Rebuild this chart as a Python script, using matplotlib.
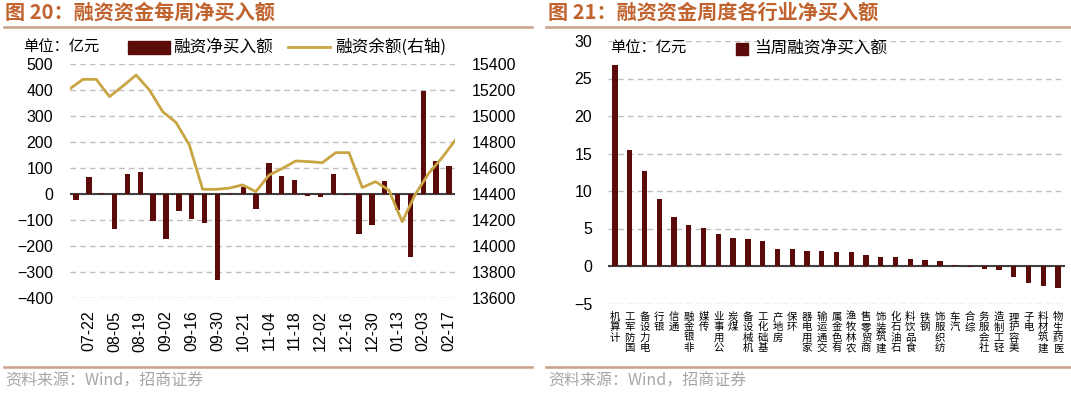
"""Two-panel margin-financing chart: weekly net buy + balance, and net buy by industry."""

import matplotlib

matplotlib.use("Agg")
import matplotlib.pyplot as plt
import numpy as np
from matplotlib.lines import Line2D
from matplotlib.patches import Rectangle

W, H = 1071, 393

weeks = [
    "07-15", "07-22", "07-29", "08-05", "08-12", "08-19", "08-26", "09-02", "09-09", "09-16",
    "09-23", "09-30", "10-14", "10-21", "10-28", "11-04", "11-11", "11-18", "11-25", "12-02",
    "12-09", "12-16", "12-23", "12-30", "01-06", "01-13", "01-20", "02-03", "02-10", "02-17",
]
net_buy = [
    -23, 64, 5, -133, 78, 85, -104, -174, -67, -95,
    -110, -331, 5, 26, -58, 120, 69, 53, -6, -10,
    78, -5, -154, -118, 49, -63, -243, 397, 126, 106,
]
balance = [
    15208, 15282, 15282, 15149, 15230, 15315, 15200, 15033, 14950, 14777,
    14436, 14436, 14445, 14470, 14418, 14546, 14597, 14654, 14649, 14641,
    14718, 14718, 14450, 14495, 14430, 14187, 14400, 14560, 14680, 14815,
]

industries = [
    "计算机", "国防军工", "电力设备", "银行", "通信", "非银金融", "传媒", "公用事业", "煤炭",
    "机械设备", "基础化工", "房地产", "环保", "家用电器", "交通运输", "有色金属", "农林牧渔",
    "商贸零售", "建筑装饰", "石油石化", "食品饮料", "钢铁", "纺织服饰", "汽车", "综合",
    "社会服务", "轻工制造", "美容护理", "电子", "建筑材料", "医药生物",
]
industry_net = [
    26.8, 15.45, 12.7, 8.97, 6.6, 5.46, 5.1, 4.26, 3.73,
    3.55, 3.37, 2.26, 2.26, 2.04, 2.04, 1.9, 1.82,
    1.47, 1.24, 1.24, 0.89, 0.75, 0.67, 0.18, -0.18,
    -0.44, -0.53, -1.5, -2.2, -2.6, -2.9,
]

BAR = "#5C0B0B"
GOLD = "#C9A443"
TITLE = "#C0632F"
RULE = "#C9A088"
GRID = "#BFBFBF"
ZERO = "#404040"
SRC = "#A6A6A6"
CJK = ["Noto Sans CJK SC", "DejaVu Sans"]

plt.rcParams["font.family"] = ["Liberation Sans", "Noto Sans CJK SC", "DejaVu Sans"]


def fx(x):
    return x / W


def fy(y):
    return 1 - y / H


def style_axes(ax):
    for s in ax.spines.values():
        s.set_visible(False)
    ax.yaxis.grid(True, linestyle=(0, (4, 3)), color=GRID, lw=1)
    ax.set_axisbelow(True)
    ax.axhline(0, color=ZERO, lw=1.5, zorder=2)


fig = plt.figure(figsize=(W / 100, H / 100), dpi=100)

# ---- left panel: weekly net buy and balance ----
ax = fig.add_axes([fx(69.6), fy(298), fx(455.4) - fx(69.6), fy(64) - fy(298)])
style_axes(ax)
x = np.arange(len(weeks))
ax.bar(x, net_buy, width=0.42, color=BAR, zorder=3)
ax.set_xlim(-0.5, len(weeks) - 0.5)
ax.set_ylim(-400, 500)
ax.set_yticks(np.arange(-400, 501, 100))
ax.set_xticks(x[1::2])
ax.set_xticklabels(weeks[1::2], rotation=90, fontsize=11.5)
ax.tick_params(axis="both", length=0, labelsize=11.5)
ax.tick_params(axis="y", pad=12)
ax.tick_params(axis="x", pad=9)

ax2 = ax.twinx()
for s in ax2.spines.values():
    s.set_visible(False)
ax2.plot(np.linspace(-0.5, len(weeks) - 0.5, len(balance)), balance, color=GOLD, lw=2, zorder=4)
ax2.set_ylim(13600, 15400)
ax2.set_yticks(np.arange(13600, 15401, 200))
ax2.tick_params(axis="y", length=0, labelsize=11.5, pad=12)

fig.text(fx(5), fy(12.5), "图 20：融资资金每周净买入额", color=TITLE, fontsize=14.5,
         fontweight="bold", family=CJK, va="center", ha="left")
fig.add_artist(Line2D([fx(4), fx(532)], [fy(26.5)] * 2, color=RULE, lw=1.8))
fig.add_artist(Line2D([fx(4), fx(532)], [fy(367)] * 2, color=RULE, lw=1.8))
fig.text(fx(5), fy(381), "资料来源：Wind，招商证券", color=SRC, fontsize=11.5,
         family=CJK, va="center", ha="left")

fig.text(fx(23), fy(47), "单位：亿元", fontsize=11, family=CJK, va="center", ha="left")
fig.add_artist(Rectangle((fx(128), fy(54)), fx(170) - fx(128), fy(41) - fy(54), color=BAR))
fig.text(fx(173), fy(47), "融资净买入额", fontsize=12, family=CJK, va="center", ha="left")
fig.add_artist(Line2D([fx(288), fx(330)], [fy(47)] * 2, color=GOLD, lw=2))
fig.text(fx(335), fy(47), "融资余额(右轴)", fontsize=12, family=CJK, va="center", ha="left")

# ---- right panel: weekly net buy by industry ----
bx = fig.add_axes([fx(607.6), fy(303.5), fx(1065.4) - fx(607.6), fy(41) - fy(303.5)])
style_axes(bx)
xi = np.arange(len(industries))
bx.bar(xi, industry_net, width=0.36, color=BAR, zorder=3)
bx.set_xlim(-0.5, len(industries) - 0.5)
bx.set_ylim(-5, 30)
bx.set_yticks(np.arange(-5, 31, 5))
bx.set_xticks(xi)
bx.set_xticklabels(["\n".join(reversed(n)) for n in industries], fontsize=7.5,
                   family=CJK, linespacing=1.05, va="top")
bx.tick_params(axis="both", length=0)
bx.tick_params(axis="y", labelsize=11.5, pad=11)
bx.tick_params(axis="x", pad=6)

fig.text(fx(548), fy(12.5), "图 21：融资资金周度各行业净买入额", color=TITLE, fontsize=14.5,
         fontweight="bold", family=CJK, va="center", ha="left")
fig.add_artist(Line2D([fx(546), fx(1071)], [fy(26.5)] * 2, color=RULE, lw=1.8))
fig.add_artist(Line2D([fx(546), fx(1071)], [fy(367)] * 2, color=RULE, lw=1.8))
fig.text(fx(548), fy(381), "资料来源：Wind，招商证券", color=SRC, fontsize=11.5,
         family=CJK, va="center", ha="left")

fig.text(fx(610), fy(48), "单位：亿元", fontsize=11, family=CJK, va="center", ha="left")
fig.add_artist(Rectangle((fx(736), fy(55)), fx(748) - fx(736), fy(43) - fy(55), color=BAR))
fig.text(fx(754), fy(48), "当周融资净买入额", fontsize=12, family=CJK, va="center", ha="left")

fig.savefig("out.png", dpi=100, facecolor="white")
